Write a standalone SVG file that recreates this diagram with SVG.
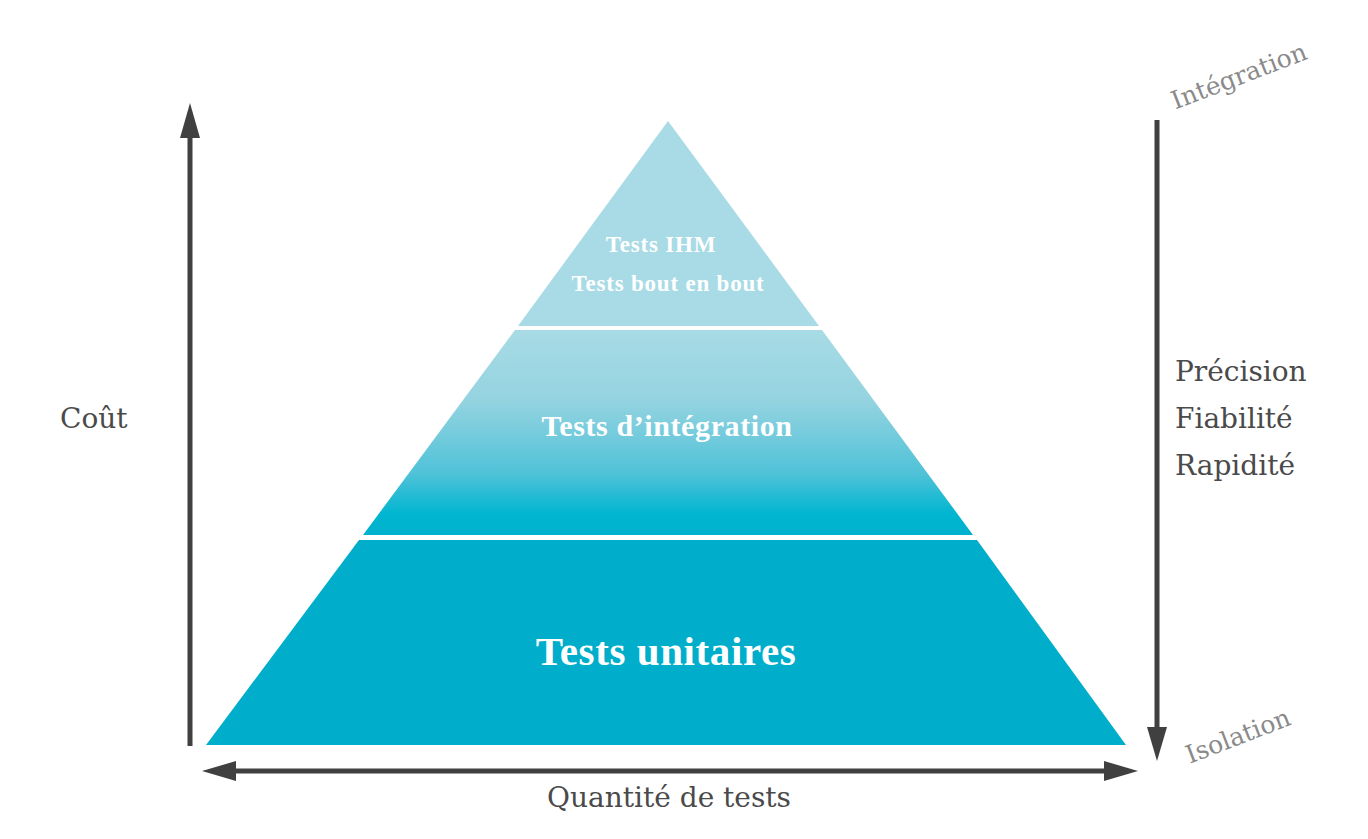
<svg xmlns="http://www.w3.org/2000/svg" width="1368" height="839" viewBox="0 0 1368 839">
<style>
.lbl{font-family:"DejaVu Serif","Liberation Serif",serif;fill:#4a4a4a;font-size:28px}
.side{font-family:"DejaVu Serif","Liberation Serif",serif;fill:#8a8a8a;font-size:25px}
.in{font-family:"Liberation Serif","DejaVu Serif",serif;fill:#ffffff;font-weight:bold;text-anchor:middle}
.ax{stroke:#404040;stroke-width:5;fill:none}
.hd{fill:#404040}
</style>
<defs>
<linearGradient id="gmid" x1="0" y1="0" x2="0" y2="1">
<stop offset="0" stop-color="#a8dbe5"/>
<stop offset="0.35" stop-color="#93d3e0"/>
<stop offset="0.7" stop-color="#50c2d8"/>
<stop offset="0.9" stop-color="#00b5d0"/>
<stop offset="1" stop-color="#00b1cd"/>
</linearGradient>
</defs>
<rect width="1368" height="839" fill="#ffffff"/>
<g id="pyramid-top">
<polygon points="668,121 819,326 518,326" fill="#a8dbe5"/>
<text class="in" x="661" y="252" font-size="23" letter-spacing="0.8">Tests IHM</text>
<text class="in" x="668" y="291" font-size="23" letter-spacing="0.8">Tests bout en bout</text>
</g>
<g id="pyramid-middle">
<polygon points="515,330 822,330 973,535 363,535" fill="url(#gmid)"/>
<text class="in" x="667" y="436" font-size="30" letter-spacing="0.6">Tests d’intégration</text>
</g>
<g id="pyramid-bottom">
<polygon points="359,540 977,540 1126,745 206,745" fill="#00aecb"/>
<text class="in" x="666" y="665" font-size="41" letter-spacing="0.6">Tests unitaires</text>
</g>
<g id="connectors">
<line class="ax" x1="190" y1="746" x2="190" y2="134"/>
<polygon class="hd" points="190,103 200,138 180,138"/>
<line class="ax" x1="1157" y1="120" x2="1157" y2="730"/>
<polygon class="hd" points="1157,761 1147,727 1167,727"/>
<line class="ax" x1="232" y1="771" x2="1108" y2="771"/>
<polygon class="hd" points="202,771 236,761 236,781"/>
<polygon class="hd" points="1138,771 1104,761 1104,781"/>
</g>
<g id="labels">
<text class="lbl" x="60" y="428">Coût</text>
<text class="lbl" x="1175" y="381">Précision</text>
<text class="lbl" x="1175" y="428">Fiabilité</text>
<text class="lbl" x="1175" y="475">Rapidité</text>
<text class="lbl" x="669" y="807" text-anchor="middle">Quantité de tests</text>
<text class="side" transform="translate(1242,84) rotate(-21)" text-anchor="middle">Intégration</text>
<text class="side" transform="translate(1241,744) rotate(-21)" text-anchor="middle">Isolation</text>
</g>
</svg>
